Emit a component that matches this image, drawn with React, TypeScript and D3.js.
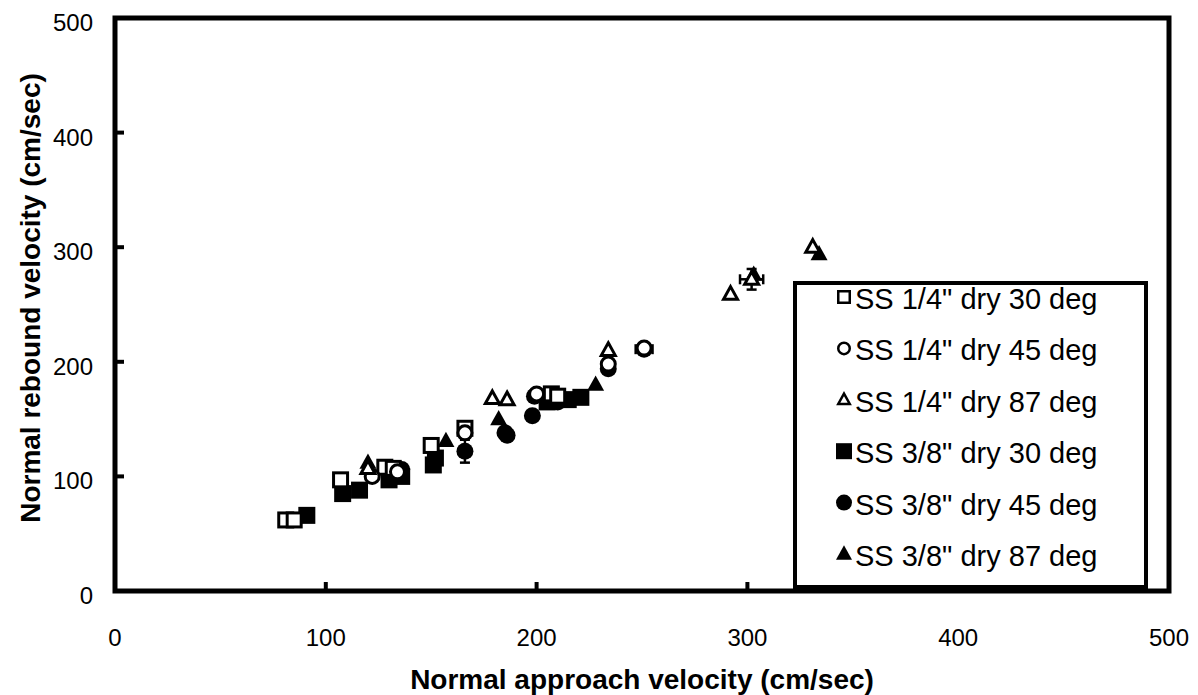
import React from "react";
import * as d3 from "d3";

const xTicks = [0, 100, 200, 300, 400, 500];
const yTicks = [0, 100, 200, 300, 400, 500];

const ss14_30: [number, number][] = [[81, 62], [85, 62], [107, 97], [128, 108], [132, 107], [150, 127], [166, 142], [207, 172], [210, 170]];
const ss14_45: [number, number][] = [[122, 100], [134, 104], [166, 138], [200, 172], [234, 198], [251, 212]];
const ss14_87: [number, number][] = [[120, 107], [179, 168], [186, 167], [234, 210], [292, 259], [302, 272], [331, 300]];
const ss38_30: [number, number][] = [[91, 66], [108, 85], [116, 88], [130, 97], [136, 100], [151, 110], [152, 116], [205, 165], [215, 167], [221, 169]];
const ss38_45: [number, number][] = [[133, 103], [136, 106], [166, 122], [185, 138], [186, 136], [198, 153], [199, 170], [210, 165], [234, 194], [251, 211]];
const ss38_87: [number, number][] = [[120, 112], [157, 131], [182, 150], [228, 180], [303, 276], [334, 294]];

// error bars: x, y, x error, y error
const errorBars: [number, number, number, number][] = [[302, 272, 5.5, 9], [166, 122, 0, 10], [251, 211, 4, 0], [166, 140, 0, 4]];

const seriesNames = [
  'SS 1/4" dry 30 deg',
  'SS 1/4" dry 45 deg',
  'SS 1/4" dry 87 deg',
  'SS 3/8" dry 30 deg',
  'SS 3/8" dry 45 deg',
  'SS 3/8" dry 87 deg',
];

type Shape = "square" | "circle" | "triangle";
const seriesData = [ss14_30, ss14_45, ss14_87, ss38_30, ss38_45, ss38_87];
const shapes: Shape[] = ["square", "circle", "triangle", "square", "circle", "triangle"];
const filled = [false, false, false, true, true, true];

function Marker({ x, y, shape, fill, size, sw = 3 }: { x: number; y: number; shape: Shape; fill: boolean; size: number; sw?: number }) {
  const w = fill ? 0 : sw;
  const common = { fill: fill ? "#000" : "#fff", stroke: "#000", strokeWidth: w };
  const s = fill ? size : size - w;
  if (shape === "square") {
    return <rect x={x - s / 2} y={y - s / 2} width={s} height={s} {...common} />;
  }
  if (shape === "circle") {
    return <circle cx={x} cy={y} r={s / 2} {...common} />;
  }
  const h = s * 0.9;
  const pts = `${x},${y - h * 0.6} ${x + s / 2},${y + h * 0.4} ${x - s / 2},${y + h * 0.4}`;
  return <polygon points={pts} {...common} strokeLinejoin="miter" />;
}

export default function App() {
  const W = 1198, H = 695;
  const L = 115, R = 1169, T = 18, B = 591;
  const x = d3.scaleLinear().domain([0, 500]).range([L, R]);
  const y = d3.scaleLinear().domain([0, 500]).range([B, T]);
  const font = "'Liberation Sans', Arial, Helvetica, sans-serif";

  const legendX = 795, legendY = 283, legendW = 351, legendH = 304;
  const rowY0 = 299, rowY1 = 556;
  const rowStep = (rowY1 - rowY0) / (seriesNames.length - 1);

  return (
    <svg width={W} height={H} style={{ position: "absolute", left: 0, top: 0, background: "#fff" }} fontFamily={font}>
      <rect x={0} y={0} width={W} height={H} fill="#fff" />
      {/* ticks */}
      {xTicks.filter((t) => t > 0 && t < 500).map((t) => (
        <line key={"xt" + t} x1={x(t)} x2={x(t)} y1={B} y2={B - 9} stroke="#000" strokeWidth={4} />
      ))}
      {yTicks.filter((t) => t > 0 && t < 500).map((t) => (
        <line key={"yt" + t} x1={L} x2={L + 9} y1={y(t)} y2={y(t)} stroke="#000" strokeWidth={4} />
      ))}
      {/* tick labels */}
      {xTicks.map((t) => (
        <text key={"xl" + t} x={x(t)} y={646} textAnchor="middle" fontSize={24}>{t}</text>
      ))}
      {yTicks.map((t) => (
        <text key={"yl" + t} x={93} y={y(t) + 13} textAnchor="end" fontSize={24}>{t}</text>
      ))}
      {/* axis titles */}
      <text x={642} y={689} textAnchor="middle" fontSize={28} fontWeight="bold">Normal approach velocity (cm/sec)</text>
      <text transform={`translate(40,298) rotate(-90)`} textAnchor="middle" fontSize={28} fontWeight="bold">Normal rebound velocity (cm/sec)</text>

      {/* error bars */}
      {errorBars.map(([ex, ey, dx, dy], i) => (
        <g key={"eb" + i} stroke="#000" strokeWidth={2.5}>
          {dx > 0 && (
            <>
              <line x1={x(ex - dx)} x2={x(ex + dx)} y1={y(ey)} y2={y(ey)} />
              <line x1={x(ex - dx)} x2={x(ex - dx)} y1={y(ey) - 5} y2={y(ey) + 5} />
              <line x1={x(ex + dx)} x2={x(ex + dx)} y1={y(ey) - 5} y2={y(ey) + 5} />
            </>
          )}
          {dy > 0 && (
            <>
              <line x1={x(ex)} x2={x(ex)} y1={y(ey - dy)} y2={y(ey + dy)} />
              <line x1={x(ex) - 5} x2={x(ex) + 5} y1={y(ey - dy)} y2={y(ey - dy)} />
              <line x1={x(ex) - 5} x2={x(ex) + 5} y1={y(ey + dy)} y2={y(ey + dy)} />
            </>
          )}
        </g>
      ))}

      {/* data */}
      {[3, 4, 5, 0, 1, 2].map((si) => (
        <g key={"s" + si}>
          {seriesData[si].map(([vx, vy], i) => (
            <Marker key={i} x={x(vx)} y={y(vy)} shape={shapes[si]} fill={filled[si]} size={17} />
          ))}
        </g>
      ))}

      {/* legend */}
      <rect x={legendX} y={legendY} width={legendW} height={legendH} fill="#fff" stroke="#000" strokeWidth={4} />
      {seriesNames.map((name, i) => {
        const cy = rowY0 + i * rowStep;
        return (
          <g key={"lg" + i}>
            <Marker x={844} y={cy - 2} shape={shapes[i]} fill={filled[i]} size={filled[i] ? 16 : 14} sw={2.5} />
            <text x={855} y={cy + 10} fontSize={29}>{name}</text>
          </g>
        );
      })}

      {/* frame */}
      <rect x={L} y={T} width={R - L} height={B - T} fill="none" stroke="#000" strokeWidth={5} />
    </svg>
  );
}
